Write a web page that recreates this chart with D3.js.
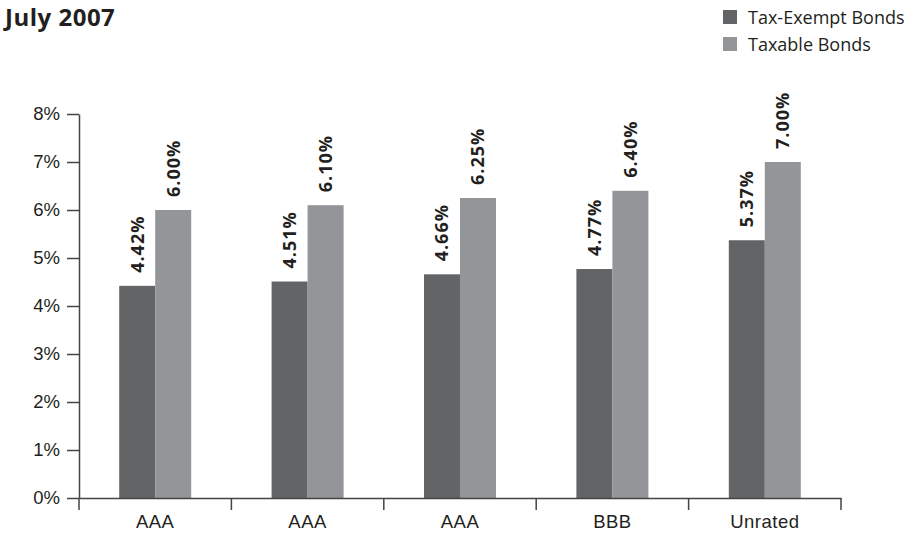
<!DOCTYPE html>
<html>
<head>
<meta charset="utf-8">
<script src="https://cdn.jsdelivr.net/npm/d3@7"></script>
<style>
  body { margin: 0; background: #fff; }
  svg { font-family: "Open Sans", "Lato", sans-serif; }
</style>
</head>
<body>
<div id="chart"></div>
<script>
const categories = ["AAA", "AAA", "AAA", "BBB", "Unrated"];
const seriesNames = ["Tax-Exempt Bonds", "Taxable Bonds"];
const taxExempt = [4.42, 4.51, 4.66, 4.77, 5.37];
const taxable = [6.00, 6.10, 6.25, 6.40, 7.00];
const yTicks = [0, 1, 2, 3, 4, 5, 6, 7, 8];
const colors = ["#636466", "#939598"];

const width = 920, height = 536;
const margin = { top: 114, right: 79, bottom: 38, left: 79 };

const svg = d3.select("#chart")
  .append("svg")
  .attr("width", width)
  .attr("height", height);

const x = d3.scaleBand()
  .domain(d3.range(categories.length))
  .range([margin.left, width - margin.right]);

const xInner = d3.scaleBand()
  .domain([0, 1])
  .range([0, 72]);

const y = d3.scaleLinear()
  .domain([0, 8])
  .range([height - margin.bottom, margin.top]);

const axisColor = "#444";
const textColor = "#231f20";

// y axis
const yAxis = svg.append("g")
  .attr("transform", `translate(${margin.left},0)`)
  .call(d3.axisLeft(y).tickValues(yTicks).tickFormat(d => d + "%").tickSize(12).tickPadding(7).tickSizeOuter(0));
yAxis.select(".domain").attr("stroke", axisColor).attr("stroke-width", 1.5);
yAxis.selectAll(".tick line").attr("stroke", axisColor).attr("stroke-width", 1.5);
yAxis.selectAll("text").attr("font-size", 18.5).attr("fill", textColor);
// y axis line runs a little below the baseline
yAxis.append("line")
  .attr("x1", 0).attr("x2", 0)
  .attr("y1", y(0)).attr("y2", y(0) + 12)
  .attr("stroke", axisColor).attr("stroke-width", 1.5);

// bars
const groups = svg.append("g")
  .selectAll("g")
  .data(categories)
  .join("g")
  .attr("transform", (d, i) => `translate(${x(i) + x.bandwidth() / 2 - 36},0)`);

const barData = (i) => [taxExempt[i], taxable[i]];

groups.selectAll("rect")
  .data((d, i) => barData(i))
  .join("rect")
  .attr("x", (d, j) => xInner(j))
  .attr("y", d => y(d))
  .attr("width", xInner.bandwidth())
  .attr("height", d => y(0) - y(d))
  .attr("fill", (d, j) => colors[j]);

groups.selectAll("text")
  .data((d, i) => barData(i))
  .join("text")
  .attr("transform", (d, j) => `translate(${xInner(j) + xInner.bandwidth() / 2},${y(d) - 13}) rotate(-90)`)
  .attr("dy", "0.36em")
  .attr("font-size", 18)
  .attr("font-weight", "bold")
  .attr("letter-spacing", 1)
  .attr("fill", textColor)
  .text(d => d.toFixed(2) + "%");

// x axis
const xAxis = svg.append("g")
  .attr("transform", `translate(0,${y(0)})`)
  .call(d3.axisBottom(x).tickFormat(i => categories[i]).tickSize(0).tickPadding(17).tickSizeOuter(0));
xAxis.select(".domain").attr("stroke", axisColor).attr("stroke-width", 1.5);
xAxis.selectAll("text").attr("font-size", 18.5).attr("letter-spacing", 0.5).attr("fill", textColor);
xAxis.selectAll(".sep")
  .data(d3.range(1, categories.length + 1))
  .join("line")
  .attr("class", "sep")
  .attr("x1", i => x(i - 1) + x.bandwidth())
  .attr("x2", i => x(i - 1) + x.bandwidth())
  .attr("y1", 0).attr("y2", 12)
  .attr("stroke", axisColor).attr("stroke-width", 1.5);

// title
svg.append("text")
  .attr("x", 5)
  .attr("y", 26)
  .attr("font-size", 24)
  .attr("font-weight", "bold")
  .attr("letter-spacing", 0.5)
  .attr("fill", textColor)
  .text("July 2007");

// legend
const legend = svg.append("g")
  .selectAll("g")
  .data(seriesNames)
  .join("g")
  .attr("transform", (d, i) => `translate(723,${10 + i * 27})`);

legend.append("rect")
  .attr("width", 14)
  .attr("height", 14)
  .attr("fill", (d, i) => colors[i]);

legend.append("text")
  .attr("x", 25)
  .attr("y", 14)
  .attr("font-size", 18)
  .attr("fill", textColor)
  .text(d => d);
</script>
</body>
</html>
